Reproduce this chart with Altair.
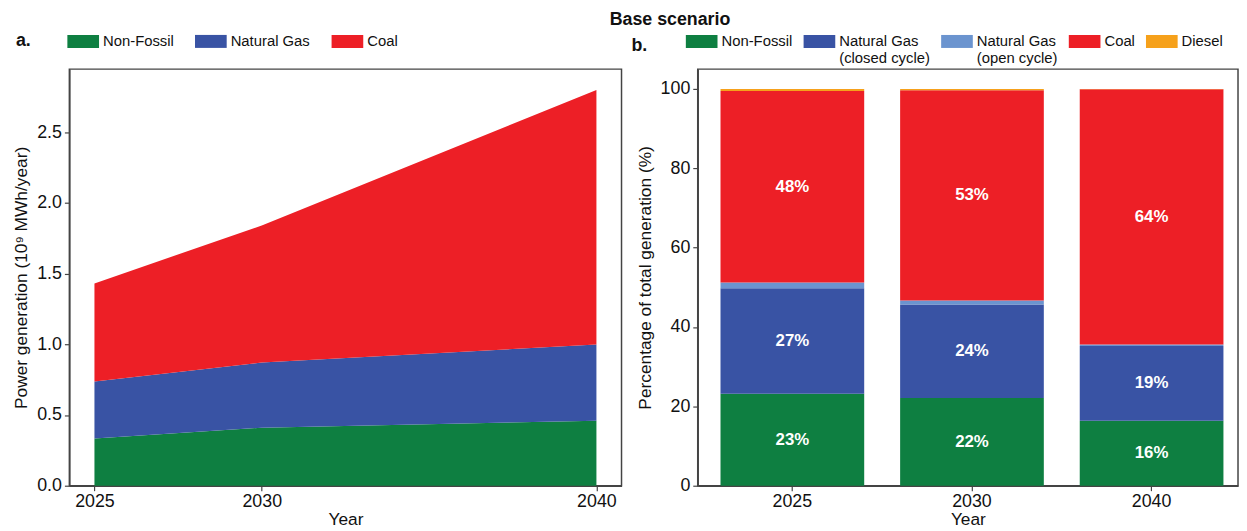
import altair as alt
import pandas as pd

# ---------------- data ----------------
years = [2025, 2030, 2040]

# panel a: power generation, 10^9 MWh/year
gen_sources = ["Non-Fossil", "Natural Gas", "Coal"]
gen_nonfossil = [0.333, 0.410, 0.460]
gen_gas = [0.404, 0.461, 0.538]
gen_coal = [0.693, 0.969, 1.799]

# panel b: share of total generation, %
pct_sources = ["Non-Fossil", "Natural Gas\n(closed cycle)", "Natural Gas\n(open cycle)", "Coal", "Diesel"]
pct_nonfossil = [23.2, 22.1, 16.4]
pct_gas_closed = [26.6, 23.6, 18.8]
pct_gas_open = [1.4, 1.0, 0.4]
pct_coal = [48.3, 53.0, 64.3]
pct_diesel = [0.5, 0.3, 0.1]

colors_a = ["#0e7f41", "#3953a4", "#ed1f26"]
colors_b = ["#0e7f41", "#3953a4", "#6b94cf", "#ed1f26", "#f6a11b"]

FONT = "Liberation Sans"

# ---------------- tables ----------------
rows_a = []
for k, (src, vals) in enumerate(zip(gen_sources, [gen_nonfossil, gen_gas, gen_coal])):
    for y, v in zip(years, vals):
        rows_a.append({"year": y, "source": src, "value": v, "order": k})
df_a = pd.DataFrame(rows_a)

rows_b = []
series_b = [pct_nonfossil, pct_gas_closed, pct_gas_open, pct_coal, pct_diesel]
for i, y in enumerate(years):
    base = 0.0
    for k, (src, vals) in enumerate(zip(pct_sources, series_b)):
        v = vals[i]
        rows_b.append({
            "year": str(y), "src": src, "pct": v, "y0": base, "y1": base + v,
            "mid": base + v / 2, "order": k,
            "label": f"{round(v):d}%" if v >= 5 else "",
        })
        base += v
df_b = pd.DataFrame(rows_b)

# wide, flat rectangle swatches (32 x 13 px drawn, 16 px used for layout)
rect_path_a = "M-2,-0.82H2V0.82H-2Z"
rect_path_b = "M-2,0.06H2V1.70H-2Z"

# ---------------- panel a ----------------
area = alt.Chart(df_a).mark_area(opacity=1).encode(
    x=alt.X("year:Q", title="Year",
            scale=alt.Scale(domain=[2024.25, 2040.75], nice=False, zero=False),
            axis=alt.Axis(values=years, format="d", grid=False)),
    y=alt.Y("value:Q", stack="zero", title="Power generation (10⁹ MWh/year)",
            scale=alt.Scale(domain=[0, 2.945], nice=False),
            axis=alt.Axis(values=[0, 0.5, 1.0, 1.5, 2.0, 2.5], format=".1f", grid=False)),
    color=alt.Color("source:N",
                    scale=alt.Scale(domain=gen_sources, range=colors_a),
                    legend=alt.Legend(
                        orient="none", legendX=-54, legendY=-36, direction="horizontal",
                        title="a.", titleOrient="left", titleFontSize=18, titleFontWeight="bold",
                        titlePadding=44, titleFont=FONT, titleColor="#111",
                        labelFontSize=15, labelFont=FONT, labelColor="#111", labelOffset=12,
                        symbolType=rect_path_a, symbolSize=256, symbolStrokeWidth=0,
                        symbolOpacity=1, columnPadding=21)),
    order=alt.Order("order:Q"),
).properties(width=558, height=421)

# ---------------- panel b ----------------
xb = alt.X("year:N", title="Year", sort=[str(y) for y in years],
           scale=alt.Scale(paddingInner=0.2, paddingOuter=0.104, align=0.61),
           axis=alt.Axis(labelAngle=0, grid=False))
bars = alt.Chart(df_b).mark_bar(opacity=1).encode(
    x=xb,
    y=alt.Y("y0:Q", title="Percentage of total generation (%)",
            scale=alt.Scale(domain=[0, 105], nice=False),
            axis=alt.Axis(values=[0, 20, 40, 60, 80, 100], grid=False)),
    y2="y1:Q",
    color=alt.Color("src:N",
                    scale=alt.Scale(domain=pct_sources, range=colors_b),
                    legend=alt.Legend(
                        orient="none", legendX=-67, legendY=-43, direction="horizontal",
                        title="b.", titleOrient="left", titleFontSize=18, titleFontWeight="bold",
                        titlePadding=47, titleFont=FONT, titleColor="#111",
                        labelFontSize=15, labelFont=FONT, labelColor="#111", labelOffset=12,
                        labelExpr="indexof(datum.label, '\\n') >= 0 ? split(datum.label, '\\n') : [datum.label, ' ']",
                        labelBaseline="top",
                        symbolType=rect_path_b, symbolSize=256, symbolStrokeWidth=0,
                        symbolOpacity=1, columnPadding=11)),
)
labels = alt.Chart(df_b).mark_text(color="white", fontWeight="bold", fontSize=17, font=FONT).encode(
    x=xb,
    y=alt.Y("mid:Q"),
    text="label:N",
)
panel_b = alt.layer(bars, labels).properties(width=546, height=421)

chart = alt.hconcat(area, panel_b, spacing=8).resolve_scale(color="independent").properties(
    title=alt.TitleParams("Base scenario", fontSize=18, fontWeight="bold", font=FONT,
                          anchor="middle", dx=45, color="#111", offset=-3),
    padding={"left": 4, "right": 0, "top": 0, "bottom": 0},
).configure_view(stroke="#444", strokeWidth=1.5).configure_axis(
    labelFont=FONT, titleFont=FONT, labelFontSize=18, titleFontSize=17.5,
    titleFontWeight="normal", labelColor="#111", titleColor="#111",
    domainColor="#444", domainWidth=1.5, tickColor="#444", tickSize=5, tickWidth=1.2,
    labelPadding=3, titlePadding=6,
).configure_axisX(labelPadding=2, titlePadding=0)

chart.save("out.html", embed_options={"renderer": "svg", "actions": False})
